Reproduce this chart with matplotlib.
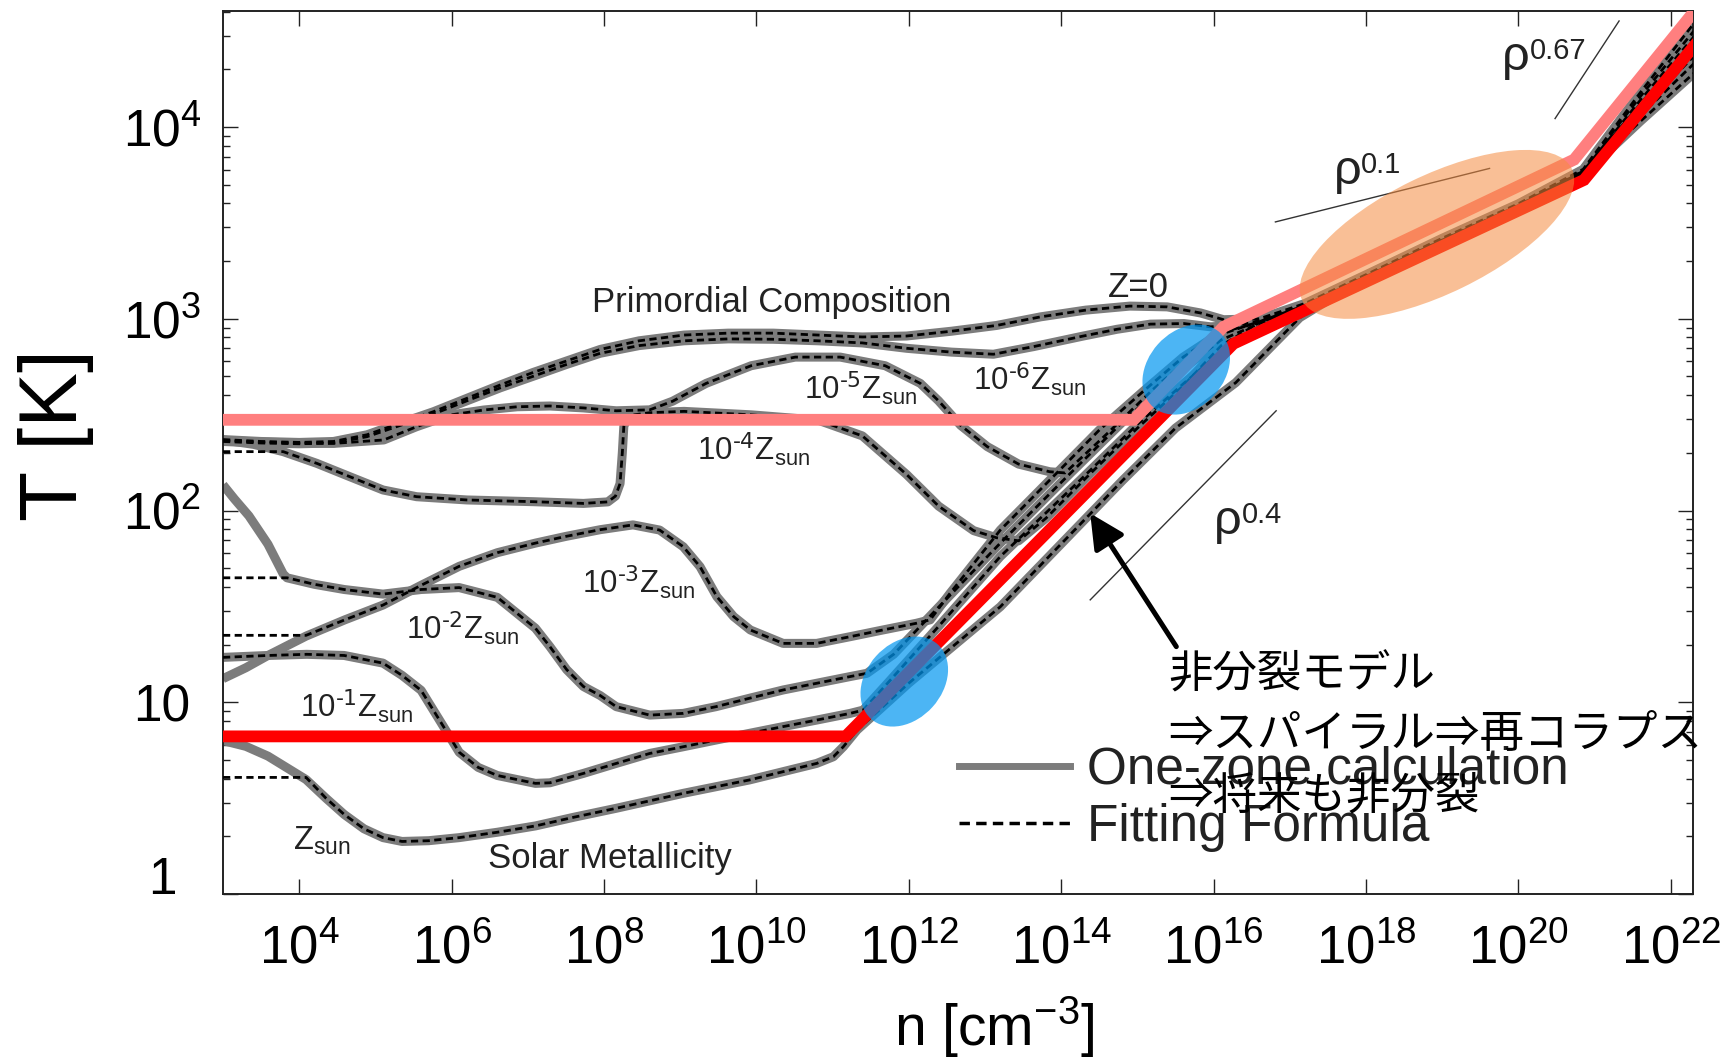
import matplotlib
matplotlib.use("Agg")
import matplotlib.pyplot as plt
import matplotlib.transforms as mtransforms
from matplotlib.patches import Ellipse
from matplotlib.lines import Line2D
from matplotlib.ticker import NullLocator, LogLocator

plt.rcParams['font.family'] = ['Liberation Sans', 'DejaVu Sans']
plt.rcParams['mathtext.default'] = 'regular'

# all values are (log10 n [cm^-3], log10 T [K])

# one-zone tracks
z0 = [(3.0, 2.37), (3.5, 2.36), (4.0, 2.355), (4.45, 2.36), (4.89, 2.395), (5.32, 2.455),
      (5.76, 2.515), (6.20, 2.585), (6.64, 2.655), (7.07, 2.72), (7.51, 2.78), (7.95, 2.84),
      (8.46, 2.885), (9.05, 2.915), (9.63, 2.925), (10.22, 2.925), (10.81, 2.915), (11.39, 2.905),
      (11.97, 2.91), (12.56, 2.935), (13.15, 2.965), (13.73, 3.01), (14.32, 3.045), (14.90, 3.066),
      (15.39, 3.062), (15.83, 3.03), (16.13, 2.995), (16.6, 3.00), (17.2, 3.08), (18.0, 3.23),
      (19.0, 3.42), (20.0, 3.60), (20.85, 3.78), (21.6, 4.18), (22.3, 4.54)]

z6 = [(3.0, 2.36), (3.5, 2.352), (4.0, 2.348), (4.45, 2.352), (4.89, 2.385), (5.32, 2.443),
      (5.76, 2.503), (6.20, 2.572), (6.64, 2.64), (7.07, 2.70), (7.51, 2.762), (7.95, 2.82),
      (8.46, 2.86), (9.05, 2.885), (9.63, 2.895), (10.22, 2.893), (10.81, 2.885), (11.39, 2.874),
      (11.97, 2.846), (12.56, 2.826), (13.11, 2.815), (13.64, 2.855), (14.29, 2.91), (14.73, 2.945),
      (15.17, 2.972), (15.61, 2.975), (15.96, 2.958), (16.3, 2.965), (16.6, 2.99), (17.2, 3.075),
      (18.0, 3.225), (19.0, 3.415), (20.0, 3.595), (20.85, 3.775), (21.6, 4.16), (22.3, 4.50)]

z5 = [(3.0, 2.365), (3.5, 2.357), (4.0, 2.352), (4.45, 2.35), (5.11, 2.368), (5.54, 2.437),
      (5.98, 2.498), (6.42, 2.524), (6.86, 2.541), (7.29, 2.545), (7.73, 2.535), (8.16, 2.52),
      (8.6, 2.525), (8.9, 2.57), (9.34, 2.663), (9.93, 2.755), (10.51, 2.80), (11.10, 2.80),
      (11.69, 2.755), (12.15, 2.663), (12.39, 2.572), (12.68, 2.444), (13.03, 2.333), (13.44, 2.242),
      (13.85, 2.202), (14.05, 2.196), (14.6, 2.40), (15.2, 2.63), (15.7, 2.80), (16.1, 2.92),
      (16.6, 2.985), (17.2, 3.07), (18.0, 3.22), (19.0, 3.41), (20.0, 3.59), (20.85, 3.77),
      (21.6, 4.14), (22.3, 4.47)]

z4 = [(3.0, 2.368), (3.4, 2.345), (3.79, 2.307), (4.23, 2.246), (4.66, 2.177), (5.10, 2.107),
      (5.54, 2.072), (6.20, 2.055), (7.07, 2.046), (7.73, 2.037), (8.05, 2.045), (8.15, 2.075),
      (8.21, 2.14), (8.24, 2.30), (8.26, 2.44), (8.32, 2.495), (8.6, 2.51), (9.05, 2.517),
      (9.93, 2.499), (10.81, 2.471), (11.39, 2.389), (11.97, 2.188), (12.39, 2.023), (12.85, 1.895),
      (13.15, 1.858), (13.44, 1.842), (13.8, 1.96), (14.4, 2.2), (15.0, 2.43), (15.6, 2.65),
      (16.1, 2.86), (16.6, 2.98), (17.2, 3.07), (18.0, 3.22), (19.0, 3.41), (20.0, 3.59),
      (20.85, 3.77), (21.6, 4.12), (22.3, 4.44)]

z3 = [(3.0, 1.123), (3.3, 1.18), (3.59, 1.244), (4.09, 1.345), (4.6, 1.43), (5.10, 1.507),
      (5.6, 1.61), (6.10, 1.709), (6.6, 1.78), (7.10, 1.83), (7.5, 1.865), (7.95, 1.90),
      (8.38, 1.925), (8.73, 1.898), (9.04, 1.811), (9.26, 1.707), (9.48, 1.551), (9.70, 1.447),
      (9.92, 1.377), (10.35, 1.307), (10.79, 1.307), (11.23, 1.342), (11.66, 1.377), (12.10, 1.412),
      (12.28, 1.43), (12.54, 1.568), (13.2, 1.898), (13.85, 2.159), (14.5, 2.42), (15.1, 2.63),
      (15.6, 2.80), (16.1, 2.93), (16.6, 2.98), (17.2, 3.07), (18.0, 3.22), (19.0, 3.41),
      (20.0, 3.59), (20.85, 3.765), (21.6, 4.10), (22.3, 4.41)]

z2 = [(3.0, 2.134), (3.15, 2.06), (3.34, 1.972), (3.59, 1.824), (3.79, 1.669), (3.84, 1.649),
      (4.2, 1.615), (4.59, 1.588), (5.10, 1.564), (5.60, 1.588), (6.10, 1.598), (6.60, 1.547),
      (7.10, 1.386), (7.29, 1.29), (7.51, 1.17), (7.73, 1.082), (7.95, 1.035), (8.16, 0.977),
      (8.60, 0.933), (9.04, 0.942), (9.47, 0.977), (9.91, 1.021), (10.35, 1.064), (10.79, 1.099),
      (11.23, 1.134), (11.45, 1.151), (11.8, 1.25), (12.4, 1.50), (13.2, 1.83), (14.03, 2.159),
      (14.8, 2.46), (15.5, 2.71), (16.1, 2.89), (16.6, 2.975), (17.2, 3.065), (18.0, 3.215),
      (19.0, 3.405), (20.0, 3.585), (20.85, 3.76), (21.6, 4.08), (22.3, 4.37)]

z1 = [(3.0, 1.234), (3.59, 1.244), (4.1, 1.25), (4.59, 1.244), (5.10, 1.204), (5.35, 1.14),
      (5.60, 1.062), (5.85, 0.901), (6.10, 0.739), (6.35, 0.66), (6.60, 0.618), (7.10, 0.577),
      (7.29, 0.58), (7.73, 0.629), (8.16, 0.681), (8.60, 0.733), (9.04, 0.768), (9.47, 0.803),
      (9.91, 0.838), (10.35, 0.873), (10.79, 0.907), (11.23, 0.942), (11.40, 0.959), (11.7, 1.09),
      (12.4, 1.40), (13.2, 1.76), (14.25, 2.159), (15.0, 2.45), (15.6, 2.66), (16.1, 2.83),
      (16.6, 2.96), (17.2, 3.06), (18.0, 3.21), (19.0, 3.40), (20.0, 3.58), (20.85, 3.755),
      (21.6, 4.06), (22.3, 4.33)]

zsun = [(3.0, 0.80), (3.3, 0.77), (3.59, 0.719), (4.09, 0.597), (4.35, 0.50), (4.59, 0.415),
        (4.85, 0.34), (5.10, 0.294), (5.35, 0.274), (5.7, 0.278), (6.10, 0.294), (6.6, 0.322),
        (7.10, 0.355), (7.60, 0.40), (8.16, 0.447), (9.04, 0.525), (9.91, 0.595), (10.79, 0.681),
        (11.01, 0.716), (11.14, 0.768), (11.32, 0.855), (12.0, 1.10), (13.2, 1.498), (14.81, 2.159),
        (15.5, 2.43), (16.29, 2.667), (17.13, 3.006), (17.6, 3.12), (18.0, 3.205), (19.0, 3.395),
        (20.0, 3.575), (20.85, 3.75), (21.6, 4.03), (22.3, 4.28)]

# fitting formula: constant-T start where it differs from the one-zone curve
z4_fit_start = [(3.0, 2.307), (3.79, 2.307)]
z3_fit_start = [(3.0, 1.349), (4.09, 1.349)]
z2_fit_start = [(3.0, 1.649), (3.84, 1.649)]
zsun_fit_start = [(3.0, 0.608), (4.09, 0.608)]

# hand-drawn overlays
pink_line = [(3.0, 2.473), (14.95, 2.473), (16.13, 2.958), (20.73, 3.83), (22.3, 4.60)]
red_line = [(3.0, 0.822), (11.17, 0.822), (16.26, 2.87), (20.86, 3.724), (22.32, 4.43)]

slope_067 = [(20.48, 4.044), (21.32, 4.553)]
slope_01 = [(16.81, 3.505), (19.62, 3.784)]
slope_04 = [(14.38, 1.534), (16.82, 2.52)]

# ellipses: centre (log n, log T)
blue_centres = [(11.94, 1.108), (15.64, 2.735)]
orange_centre = (18.93, 3.44)

arrow_tip = (14.38, 1.985)
arrow_tail = (15.51, 1.29)

xtick_exp = [4, 6, 8, 10, 12, 14, 16, 18, 20, 22]
ytick_vals = [1, 10, 100, 1000, 10000]
ytick_labels = ['1', '10', '$10^{2}$', '$10^{3}$', '$10^{4}$']

curve_labels = [
    ('Primordial Composition', 7.843, 3.033, 25),
    ('Z=0', 14.61, 3.116, 25),
    (r'$10^{\text{-6}}Z_{sun}$', 12.84, 2.628, 22.5),
    (r'$10^{\text{-5}}Z_{sun}$', 10.63, 2.581, 22.5),
    (r'$10^{\text{-4}}Z_{sun}$', 9.22, 2.261, 22.5),
    (r'$10^{\text{-3}}Z_{sun}$', 7.71, 1.568, 22.5),
    (r'$10^{\text{-2}}Z_{sun}$', 5.40, 1.330, 22.5),
    (r'$10^{\text{-1}}Z_{sun}$', 4.016, 0.921, 22.5),
    ('$Z_{sun}$', 3.915, 0.229, 23.5),
    ('Solar Metallicity', 6.474, 0.134, 25),
]
rho_labels = [('0.67', 19.785, 4.297), ('0.1', 17.573, 3.704), ('0.4', 16.003, 1.877)]
jp_lines = [('非分裂モデル', 15.41, 1.267),
            ('⇒スパイラル⇒再コラプス', 15.41, 0.954),
            ('⇒将来も非分裂', 15.41, 0.631)]


def lin(pts):
    return [10 ** p[0] for p in pts], [10 ** p[1] for p in pts]


fig = plt.figure(figsize=(17.26, 10.59), dpi=100)
ax = fig.add_axes([223 / 1726, 165 / 1059, 1470 / 1726, 883 / 1059])
ax.set_xscale('log')
ax.set_yscale('log')

tracks = [(z0, None), (z6, None), (z5, None), (z4, z4_fit_start), (z3, z3_fit_start),
          (z2, z2_fit_start), (z1, None), (zsun, zsun_fit_start)]
for pts, start in tracks:
    x, y = lin(pts)
    ax.plot(x, y, color='#7c7c7c', lw=6.5, solid_joinstyle='round', solid_capstyle='butt', zorder=2)
    if start:
        fit = start + [p for p in pts if p[0] > start[-1][0]]
    else:
        fit = pts
    x, y = lin(fit)
    ax.plot(x, y, color='black', lw=2.0, ls=(0, (2.6, 1.6)), zorder=3)

for pts in (slope_067, slope_01, slope_04):
    x, y = lin(pts)
    ax.plot(x, y, color='#333333', lw=1.0, zorder=3)

x, y = lin(pink_line)
ax.plot(x, y, color='#ff7f7f', lw=8.5, solid_joinstyle='miter', zorder=4)
x, y = lin(red_line)
ax.plot(x, y, color='#ff0000', lw=8.5, solid_joinstyle='miter', zorder=4)


def ellipse(c, w, h, ang, color, alpha):
    tr = mtransforms.ScaledTranslation(10 ** c[0], 10 ** c[1], ax.transData)
    e = Ellipse((0, 0), w, h, angle=ang, transform=tr, facecolor=color,
                edgecolor='none', alpha=alpha, zorder=5)
    ax.add_patch(e)


for c in blue_centres:
    ellipse(c, 100, 76, 48, '#0096f0', 0.7)
ellipse(orange_centre, 300, 118, 26, '#f58c40', 0.55)

ax.annotate('', xy=(10 ** arrow_tip[0], 10 ** arrow_tip[1]),
            xytext=(10 ** arrow_tail[0], 10 ** arrow_tail[1]),
            arrowprops=dict(arrowstyle='-|>,head_length=0.7,head_width=0.35', lw=3.6,
                            color='black', shrinkA=0, shrinkB=0, mutation_scale=30), zorder=6)

for txt, lx, ly, fs in curve_labels:
    ax.text(10 ** lx, 10 ** ly, txt, fontsize=fs, color='#222222', ha='left', va='baseline', zorder=6)
for sup, lx, ly in rho_labels:
    ax.text(10 ** lx, 10 ** ly, 'ρ', fontsize=35, color='#222222', ha='left', va='baseline', zorder=6)
    ax.annotate(sup, (10 ** lx, 10 ** ly), xytext=(20, 8), textcoords='offset points',
                fontsize=21, color='#222222', ha='left', va='baseline', zorder=6)
for txt, lx, ly in jp_lines:
    ax.text(10 ** lx, 10 ** ly, txt, fontsize=32, color='black', ha='left', va='top',
            family=['Noto Sans CJK JP', 'DejaVu Sans'], zorder=7)

handles = [Line2D([], [], color='#7c7c7c', lw=5),
           Line2D([], [], color='black', lw=2.5, ls=(0, (3, 1.8)))]
ax.legend(handles, ['One-zone calculation', 'Fitting Formula'], loc='upper left',
          bbox_to_anchor=(0.501, 0.168), frameon=False, fontsize=37, handlelength=2.15,
          handletextpad=0.33, labelspacing=0.16, borderpad=0, borderaxespad=0,
          labelcolor='#222222')

ax.set_xlim(1e3, 10 ** 22.29)
ax.set_ylim(1, 10 ** 4.605)
ax.set_xticks([10.0 ** e for e in xtick_exp], labels=['$10^{%d}$' % e for e in xtick_exp])
ax.xaxis.set_minor_locator(NullLocator())
ax.set_yticks(ytick_vals, labels=ytick_labels)
ax.yaxis.set_minor_locator(LogLocator(base=10, subs=[2, 3, 4, 5, 6, 7, 8, 9]))
ax.tick_params(which='both', direction='in', top=True, right=True, width=1.0, color='#222222')
ax.tick_params(which='major', length=10.8)
ax.tick_params(which='minor', length=5)
ax.tick_params(axis='x', pad=22, labelsize=38)
ax.tick_params(axis='y', pad=44, labelsize=37)
for lbl in ax.get_yticklabels():
    lbl.set_horizontalalignment('center')
ax.get_yticklabels()[0].set_verticalalignment('baseline')
for s in ax.spines.values():
    s.set_linewidth(1.4)
    s.set_color('#222222')

ax.set_xlabel('n [cm$^{-3}$]', fontsize=41)
ax.xaxis.set_label_coords(0.525, -0.114)
ax.set_ylabel('T [K]', fontsize=59)
ax.yaxis.set_label_coords(-0.088, 0.52)

fig.savefig('out.png', dpi=100)
